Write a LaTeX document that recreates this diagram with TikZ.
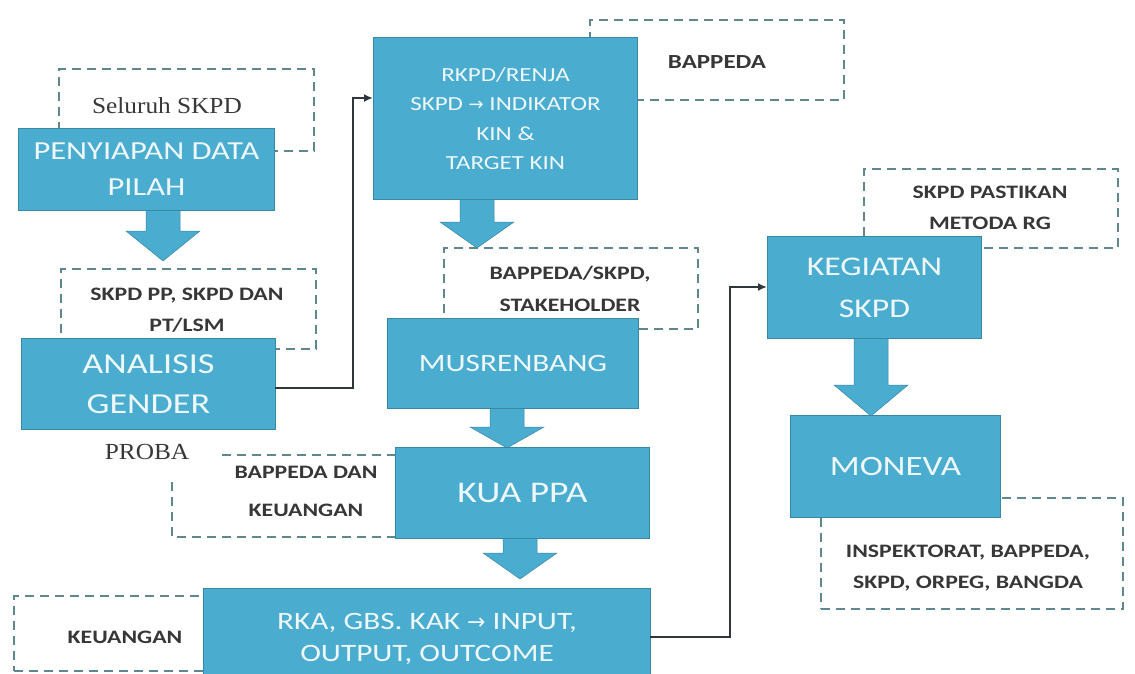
\documentclass[tikz,border=0pt]{standalone}
\usepackage{fontspec}
\setmainfont{Carlito}
\newfontfamily\bxf[FakeStretch=1.25]{Carlito}
\newfontfamily\srf[FakeStretch=1.1]{Liberation Serif}
\newfontfamily\arf{DejaVu Sans}
\usetikzlibrary{arrows.meta}
\definecolor{boxblue}{RGB}{74,172,206}
\definecolor{boxedge}{RGB}{55,135,165}
\definecolor{dashc}{RGB}{95,135,145}
\definecolor{lbl}{RGB}{55,55,55}
\definecolor{wtxt}{RGB}{238,247,250}
\definecolor{connc}{RGB}{45,55,60}
\tikzset{
  bluebox/.style={draw=boxedge, line width=1pt, fill=boxblue, anchor=north west,
    inner sep=0pt, align=center, text=wtxt},
  dashbox/.style={draw=dashc, line width=1.8pt, dash pattern=on 9pt off 6pt,
    anchor=north west, inner sep=0pt},
  dashline/.style={draw=dashc, line width=1.8pt, dash pattern=on 9pt off 6pt},
  lbltext/.style={text=lbl, align=center, inner sep=0pt,
    font=\bxf\bfseries\fontsize{19}{31}\selectfont},
  serlbl/.style={text=black!78, inner sep=0pt, font=\srf\fontsize{23}{26}\selectfont},
  connector/.style={draw=connc, line width=2pt, -{Latex[length=9pt,width=8pt]}},
  blockarrow/.style={fill=boxblue, draw=boxedge, line width=0.5pt},
}
\newcommand{\blockarr}[4]{% center x, top y, head base y, tip y
  \path[blockarrow] (#1-17,#2) -- (#1+17,#2) -- (#1+17,#3) -- (#1+37,#3)
    -- (#1,#4) -- (#1-37,#3) -- (#1-17,#3) -- cycle;}
\begin{document}
\begin{tikzpicture}[x=1pt,y=-1pt]
\useasboundingbox (0,0) rectangle (1135,674);
\clip (0,0) rectangle (1135,674);

% dashed boxes
\node[dashbox, minimum width=255pt, minimum height=82pt] (d1) at (58,68) {};
\node[dashbox, minimum width=255pt, minimum height=80pt] (d2) at (60,268) {};
\node[dashbox, minimum width=254pt, minimum height=80pt] (d3) at (589,19) {};
\node[dashbox, minimum width=254pt, minimum height=81pt] (d4) at (443,247) {};
\node[dashbox, minimum width=190pt, minimum height=75pt] (d6) at (13,595) {};
\node[dashbox, minimum width=254pt, minimum height=79pt] (d7) at (863,168) {};
\node[dashbox, minimum width=302pt, minimum height=111pt] (d8) at (820,497) {};
\coordinate (d5a) at (222,455);
\coordinate (d5b) at (395,455);
\coordinate (d5c) at (172,482);
\coordinate (d5d) at (172,537);
\coordinate (d5e) at (395,537);
\draw[dashline] (d5a) -- (d5b);
\draw[dashline] (d5c) -- (d5d) -- (d5e);

% block arrows
\blockarr{163}{205}{231}{261}
\blockarr{477}{195}{222}{248}
\blockarr{507}{404}{427}{448}
\blockarr{520}{534}{553}{579}
\blockarr{871}{334}{385}{416}

% blue boxes
\node[bluebox, minimum width=256pt, minimum height=82pt,
  font=\bxf\fontsize{26}{36}\selectfont] (b1) at (18,128) {PENYIAPAN DATA\\PILAH};
\node[bluebox, minimum width=254pt, minimum height=91pt,
  font=\bxf\fontsize{29}{40}\selectfont] (b2) at (21,338) {ANALISIS\\GENDER};
\node[bluebox, minimum width=264pt, minimum height=162pt,
  font=\bxf\fontsize{20}{29.5}\selectfont] (rk) at (373,37)
  {RKPD/RENJA\\SKPD {\arf\fontsize{18}{20}\selectfont →} INDIKATOR\\KIN \&\\TARGET KIN};
\node[bluebox, minimum width=251pt, minimum height=90pt,
  font=\bxf\fontsize{25}{30}\selectfont] (mu) at (387,318) {MUSRENBANG};
\node[bluebox, minimum width=254pt, minimum height=91pt,
  font=\bxf\fontsize{30}{36}\selectfont] (kua) at (395,447) {KUA PPA};
\node[bluebox, minimum width=447pt, minimum height=100pt,
  font=\bxf\fontsize{25}{32}\selectfont] (rka) at (203,588)
  {RKA, GBS. KAK {\arf\fontsize{22}{24}\selectfont →} INPUT,\\OUTPUT, OUTCOME};
\node[bluebox, minimum width=214pt, minimum height=102pt,
  font=\bxf\fontsize{27}{42}\selectfont] (kg) at (767,236) {KEGIATAN\\SKPD};
\node[bluebox, minimum width=210pt, minimum height=102pt,
  font=\bxf\fontsize{28}{34}\selectfont] (mo) at (790,415) {MONEVA};

% connectors
\coordinate (j1) at (353,98);
\coordinate (s2) at (275,388);
\draw[connector] (s2) -| (j1) -- (j1 -| rk.west);
\coordinate (j2) at (730,287);
\coordinate (s3) at (650,637);
\draw[connector] (s3) -| (j2) -- (j2 -| kg.west);

% labels
\node[serlbl] (t1) at (167,106) {Seluruh SKPD};
\node[serlbl] (t2) at (147,452) {PROBA};
\node[lbltext] (t3) at (187,310) {SKPD PP, SKPD DAN\\PT/LSM};
\node[lbltext, font=\bxf\bfseries\fontsize{20}{31}\selectfont] (t4) at (717,62) {BAPPEDA};
\node[lbltext, font=\bxf\bfseries\fontsize{19}{32}\selectfont] (t5) at (570,289) {BAPPEDA/SKPD,\\STAKEHOLDER};
\node[lbltext, font=\bxf\bfseries\fontsize{19}{38}\selectfont] (t6) at (306,491) {BAPPEDA DAN\\KEUANGAN};
\node[lbltext] (t7) at (125,637) {KEUANGAN};
\node[lbltext] (t8) at (990,208) {SKPD PASTIKAN\\METODA RG};
\node[lbltext] (t9) at (968,568) {INSPEKTORAT, BAPPEDA,\\SKPD, ORPEG, BANGDA};
\end{tikzpicture}
\end{document}
